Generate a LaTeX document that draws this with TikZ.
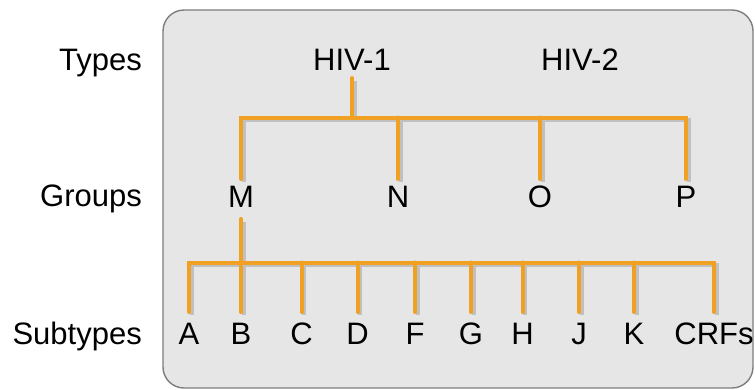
\documentclass[tikz,border=0pt]{standalone}
\usepackage{fontspec}
\setmainfont{Liberation Sans}
\definecolor{panelfill}{RGB}{230,230,230}
\definecolor{paneledge}{RGB}{125,125,125}
\definecolor{branchorange}{RGB}{240,160,34}
\definecolor{branchshadow}{RGB}{192,192,192}
\begin{document}
\begin{tikzpicture}[x=1pt,y=-1pt,
  label/.style={inner sep=0pt,anchor=base,font=\fontsize{31}{37}\selectfont},
  rowlabel/.style={label,anchor=base east},
  branch/.style={draw=branchorange,line width=4pt,line cap=round,line join=miter,
    preaction={draw=branchshadow,line width=4pt,transform canvas={shift={(2.5pt,-2.5pt)}}}}
]
\useasboundingbox (0,0) rectangle (755,389);

% panel
\draw[fill=panelfill,draw=paneledge,line width=1.4pt,rounded corners=21pt]
  (163,10) rectangle (753,388);

% row captions
\node[rowlabel] (types) at (142,70) {Types};
\node[rowlabel] (groups) at (142,206) {Groups};
\node[rowlabel] (subtypes) at (142,344) {Subtypes};

% types
\node[label] (hiv1) at (352,70) {HIV-1};
\node[label] (hiv2) at (580,70) {HIV-2};

% groups
\node[label] (gM) at (241,207) {M};
\node[label] (gN) at (398,207) {N};
\node[label] (gO) at (540,207) {O};
\node[label] (gP) at (686,207) {P};

% subtypes
\node[label] (sA) at (189,344) {A};
\node[label] (sB) at (241,344) {B};
\node[label] (sC) at (301.5,344) {C};
\node[label] (sD) at (357.5,344) {D};
\node[label] (sF) at (415,344) {F};
\node[label] (sG) at (471,344) {G};
\node[label] (sH) at (522.5,344) {H};
\node[label] (sJ) at (579,344) {J};
\node[label] (sK) at (634,344) {K};
\node[label] (sCRF) at (714,344) {CRFs};

% levels of the bars
\coordinate (bartop) at (0,117.5);
\coordinate (barlow) at (0,262.5);

% HIV-1 to its groups
\draw[branch] (hiv1 |- 0,78) -- (hiv1 |- bartop);
\draw[branch] (gM |- 0,179) -- (gM |- bartop) -- (gP |- bartop) -- (gP |- 0,179);
\foreach \g in {gN,gO}
  \draw[branch] (\g |- bartop) -- (\g |- 0,179);

% group M to its subtypes
\draw[branch] (gM |- 0,219) -- (gM |- barlow);
\draw[branch] (sA |- 0,312) -- (sA |- barlow) -- (sCRF |- barlow) -- (sCRF |- 0,312);
\foreach \s in {sB,sC,sD,sF,sG,sH,sJ,sK}
  \draw[branch] (\s |- barlow) -- (\s |- 0,312);
\end{tikzpicture}
\end{document}
